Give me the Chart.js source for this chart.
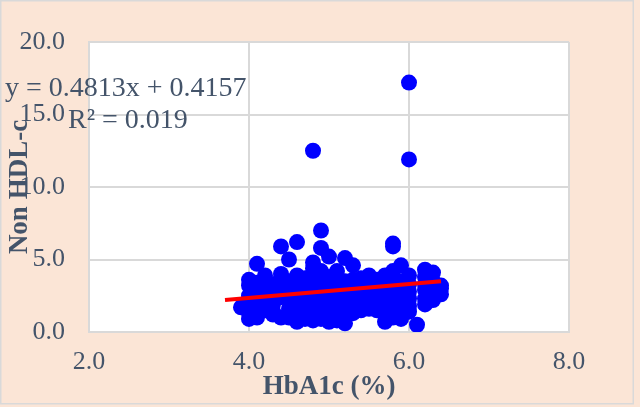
<!DOCTYPE html>
<html>
<head>
<meta charset="utf-8">
<script src="https://cdn.jsdelivr.net/npm/chart.js@4.4.1/dist/chart.umd.min.js"></script>
<style>
    html, body { margin: 0; padding: 0; background: #FBE5D6; }
</style>
</head>
<body>
<canvas id="hba1cScatterChart" width="640" height="407"></canvas>
<script>
// HbA1c (%) readings, grouped by value
var hba1cValues = [
    3.9,
    4.0, 4.0, 4.0, 4.0, 4.0, 4.0,
    4.1, 4.1, 4.1, 4.1, 4.1, 4.1,
    4.2, 4.2, 4.2, 4.2, 4.2,
    4.3, 4.3, 4.3, 4.3, 4.3,
    4.4, 4.4, 4.4, 4.4, 4.4, 4.4,
    4.5, 4.5, 4.5, 4.5, 4.5, 4.5,
    4.6, 4.6, 4.6, 4.6, 4.6, 4.6, 4.6,
    4.7, 4.7, 4.7, 4.7, 4.7, 4.7, 4.7,
    4.8, 4.8, 4.8, 4.8, 4.8, 4.8, 4.8, 4.8, 4.8,
    4.9, 4.9, 4.9, 4.9, 4.9, 4.9, 4.9, 4.9, 4.9,
    5.0, 5.0, 5.0, 5.0, 5.0, 5.0, 5.0, 5.0,
    5.1, 5.1, 5.1, 5.1, 5.1, 5.1,
    5.2, 5.2, 5.2, 5.2, 5.2, 5.2, 5.2,
    5.3, 5.3, 5.3, 5.3, 5.3, 5.3,
    5.4, 5.4, 5.4, 5.4, 5.4,
    5.5, 5.5, 5.5, 5.5, 5.5, 5.5,
    5.6, 5.6, 5.6, 5.6, 5.6,
    5.7, 5.7, 5.7, 5.7, 5.7, 5.7, 5.7,
    5.8, 5.8, 5.8, 5.8, 5.8, 5.8, 5.8, 5.8, 5.8,
    5.9, 5.9, 5.9, 5.9, 5.9, 5.9, 5.9,
    6.0, 6.0, 6.0, 6.0, 6.0, 6.0, 6.0, 6.0,
    6.1,
    6.2, 6.2, 6.2, 6.2, 6.2, 6.2,
    6.3, 6.3, 6.3, 6.3,
    6.4, 6.4, 6.4
];

// Non HDL-c readings, same order as above
var nonHdlValues = [
    1.7,
    3.6, 0.9, 2.5, 3.2, 1.3, 2.0,
    4.7, 1.0, 1.8, 2.6, 3.4, 1.2,
    3.9, 3.0, 2.2, 1.5, 3.6,
    1.2, 2.8, 3.3, 1.9, 1.4,
    5.9, 3.7, 2.4, 1.0, 3.1, 4.0,
    5.0, 1.6, 2.9, 3.5, 1.0, 2.2,
    6.2, 3.9, 0.7, 2.6, 1.3, 3.3, 1.9,
    3.2, 1.1, 2.1, 3.0, 3.7, 0.9, 2.7,
    12.5, 4.8, 4.4, 1.5, 2.4, 3.4, 0.8, 2.9, 4.0,
    7.0, 5.8, 3.7, 1.2, 2.0, 2.8, 3.3, 0.9, 4.2,
    5.2, 0.7, 1.6, 2.5, 3.1, 3.8, 1.0, 2.1,
    4.2, 1.4, 2.3, 2.9, 3.5, 0.8,
    5.1, 0.6, 3.5, 1.9, 2.6, 1.2, 3.0,
    4.6, 1.6, 2.2, 2.9, 3.6, 1.3,
    3.7, 1.8, 2.5, 3.2, 1.5,
    3.9, 1.6, 2.1, 2.8, 1.7, 3.4,
    2.1, 1.5, 2.6, 3.2, 3.6,
    3.9, 0.7, 1.2, 1.9, 2.8, 3.4, 2.4,
    6.1, 5.9, 2.3, 1.0, 1.6, 2.7, 3.2, 4.2, 2.0,
    4.6, 0.9, 1.3, 2.1, 2.6, 3.5, 1.8,
    17.2, 11.9, 3.9, 2.3, 1.4, 1.8, 2.8, 3.3,
    0.5,
    4.3, 1.9, 2.9, 2.3, 3.3, 3.8,
    4.1, 3.5, 2.2, 2.7,
    3.2, 2.6, 3.0
];

// linear trendline end points
var trendX = [3.7, 6.4];
var trendY = [2.2, 3.5];
var trendLabels = ['y = 0.4813x + 0.4157', 'R\u00B2 = 0.019'];

var xTicks = [2, 4, 6, 8];
var yTicks = [0, 5, 10, 15, 20];

var textColor = '#44546A';
var serif = "'Liberation Serif', 'Times New Roman', serif";

document.addEventListener('DOMContentLoaded', function () {
    var points = hba1cValues.map(function (x, i) {
        return { x: x, y: nonHdlValues[i] };
    });
    var trendPoints = trendX.map(function (x, i) {
        return { x: x, y: trendY[i] };
    });

    var backgroundPlugin = {
        id: 'chartBackground',
        beforeDraw: function (chart) {
            var ctx = chart.ctx;
            var area = chart.chartArea;
            ctx.save();
            ctx.fillStyle = '#FBE5D6';
            ctx.fillRect(0, 0, chart.width, chart.height);
            ctx.strokeStyle = '#D9D9D9';
            ctx.lineWidth = 1.5;
            ctx.strokeRect(0.75, 0.75, 632.5, 403);
            ctx.fillStyle = '#FFFFFF';
            ctx.fillRect(area.left, area.top, area.right - area.left, area.bottom - area.top);
            ctx.restore();
        }
    };

    var equationPlugin = {
        id: 'trendEquation',
        afterDraw: function (chart) {
            var ctx = chart.ctx;
            ctx.save();
            ctx.fillStyle = textColor;
            ctx.font = '28px ' + serif;
            ctx.textBaseline = 'alphabetic';
            ctx.textAlign = 'left';
            ctx.fillText(trendLabels[0], 5, 96);
            ctx.fillText(trendLabels[1], 68, 128);
            ctx.restore();
        }
    };

    var ctx = document.getElementById('hba1cScatterChart').getContext('2d');
    var scatterChart = new Chart(ctx, {
        type: 'scatter',
        data: {
            datasets: [{
                label: 'Linear trend',
                data: trendPoints,
                showLine: true,
                borderColor: '#FF0000',
                borderWidth: 4,
                pointRadius: 0,
                order: 0
            }, {
                label: 'Non HDL-c',
                data: points,
                backgroundColor: '#0000FF',
                borderColor: '#0000FF',
                borderWidth: 0,
                pointRadius: 8,
                order: 1
            }]
        },
        plugins: [backgroundPlugin, equationPlugin],
        options: {
            responsive: false,
            animation: false,
            layout: {
                padding: { left: 0, right: 71, top: 42, bottom: 0 }
            },
            scales: {
                x: {
                    type: 'linear',
                    min: 2,
                    max: 8,
                    afterFit: function (scale) { scale.height = 75; },
                    afterBuildTicks: function (scale) {
                        scale.ticks = xTicks.map(function (v) { return { value: v }; });
                    },
                    ticks: {
                        padding: 15,
                        color: textColor,
                        font: { family: serif, size: 26 },
                        callback: function (value) { return value.toFixed(1); }
                    },
                    grid: { color: '#D9D9D9', lineWidth: 2, drawTicks: false },
                    border: { color: '#D9D9D9', width: 2 },
                    title: {
                        display: true,
                        text: 'HbA1c (%)',
                        color: textColor,
                        font: { family: serif, size: 27, weight: 'bold' },
                        padding: { top: 0, bottom: 4 }
                    }
                },
                y: {
                    min: 0,
                    max: 20,
                    afterFit: function (scale) { scale.width = 89; },
                    afterBuildTicks: function (scale) {
                        scale.ticks = yTicks.map(function (v) { return { value: v }; });
                    },
                    ticks: {
                        padding: 24,
                        color: textColor,
                        font: { family: serif, size: 26 },
                        callback: function (value) { return value.toFixed(1); }
                    },
                    grid: { color: '#D9D9D9', lineWidth: 2, drawTicks: false },
                    border: { color: '#D9D9D9', width: 2 },
                    title: {
                        display: true,
                        text: 'Non HDL-c',
                        color: textColor,
                        font: { family: serif, size: 27, weight: 'bold' },
                        padding: { top: 4, bottom: 0 }
                    }
                }
            },
            plugins: {
                legend: { display: false },
                tooltip: { enabled: false }
            }
        }
    });
});
</script>
</body>
</html>
